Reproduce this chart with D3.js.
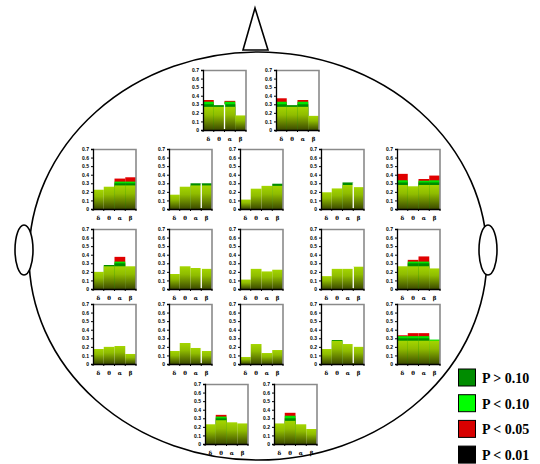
<!DOCTYPE html>
<html><head><meta charset="utf-8">
<script src="https://cdn.jsdelivr.net/npm/d3@7"></script>
<style>body{margin:0;background:#fff}</style>
</head><body><svg id="c" width="540" height="464"></svg>
<script>
// ---------- data ----------
const bands = ["δ", "θ", "α", "β"];
const yTicks = [0, 0.1, 0.2, 0.3, 0.4, 0.5, 0.6, 0.7];
// base (gradient) bar heights per electrode panel
const baseValues = [
  [0.27, 0.27, 0.27, 0.17],
  [0.27, 0.27, 0.27, 0.165],
  [0.225, 0.26, 0.275, 0.275],
  [0.167, 0.26, 0.275, 0.275],
  [0.11, 0.237, 0.27, 0.27],
  [0.195, 0.24, 0.28, 0.255],
  [0.28, 0.265, 0.28, 0.28],
  [0.2, 0.265, 0.265, 0.265],
  [0.175, 0.265, 0.245, 0.235],
  [0.11, 0.235, 0.205, 0.225],
  [0.15, 0.235, 0.235, 0.26],
  [0.265, 0.265, 0.265, 0.24],
  [0.175, 0.2, 0.21, 0.117],
  [0.152, 0.245, 0.187, 0.152],
  [0.082, 0.233, 0.128, 0.163],
  [0.175, 0.27, 0.233, 0.2],
  [0.272, 0.272, 0.272, 0.272],
  [0.23, 0.277, 0.253, 0.24],
  [0.24, 0.27, 0.23, 0.175]
];
// top of the "P > 0.10" segment (0 = none)
const pAbove010 = [
  [0.30, 0.29, 0.30, 0], [0.30, 0.29, 0.30, 0],
  [0, 0, 0.30, 0.30], [0, 0, 0.30, 0.30], [0, 0, 0, 0.295], [0, 0, 0.31, 0], [0.31, 0, 0.31, 0.31],
  [0, 0.28, 0.30, 0], [0, 0, 0, 0], [0, 0, 0, 0], [0, 0, 0, 0], [0, 0.30, 0.30, 0],
  [0, 0, 0, 0], [0, 0, 0, 0], [0, 0, 0, 0], [0, 0.28, 0, 0], [0.30, 0.30, 0.30, 0],
  [0, 0.30, 0, 0], [0, 0.30, 0, 0]
];
// top of the "P < 0.10" segment
const pBelow010 = [
  [0.33, 0, 0.33, 0], [0.33, 0, 0.33, 0],
  [0, 0, 0.32, 0.32], [0, 0, 0, 0], [0, 0, 0, 0], [0, 0, 0, 0], [0.335, 0, 0.33, 0.335],
  [0, 0, 0.32, 0], [0, 0, 0, 0], [0, 0, 0, 0], [0, 0, 0, 0], [0, 0.32, 0.32, 0],
  [0, 0, 0, 0], [0, 0, 0, 0], [0, 0, 0, 0], [0, 0, 0, 0], [0.325, 0.325, 0.325, 0.285],
  [0, 0.32, 0, 0], [0, 0.33, 0, 0]
];
// top of the "P < 0.05" segment
const pBelow005 = [
  [0.35, 0, 0.34, 0], [0.37, 0, 0.35, 0],
  [0, 0, 0.355, 0.37], [0, 0, 0, 0], [0, 0, 0, 0], [0, 0, 0, 0], [0.41, 0, 0.35, 0.39],
  [0, 0, 0.375, 0], [0, 0, 0, 0], [0, 0, 0, 0], [0, 0, 0, 0], [0, 0.34, 0.38, 0],
  [0, 0, 0, 0], [0, 0, 0, 0], [0, 0, 0, 0], [0, 0, 0, 0], [0.335, 0.36, 0.36, 0],
  [0, 0.34, 0, 0], [0, 0.364, 0, 0]
];
const legendLabels = ["P > 0.10", "P < 0.10", "P < 0.05", "P < 0.01"];

// ---------- layout / style ----------
const panelPos = [
  [203, 70], [276, 70],
  [93, 149], [169, 149], [240, 149], [321, 149], [397, 149],
  [93, 229], [169, 229], [240, 229], [321, 229], [397, 229],
  [93, 304], [169, 304], [240, 304], [321, 304], [397, 304],
  [205, 384], [274, 384]
];
const gapAt = {0: 2, 3: 3, 5: 3, 8: 3, 10: 3, 13: 3, 15: 3};
const PW = 43, PH = 60;
const colDark = "#008c00", colLight = "#00e600", colRed = "#e00000", colBlack = "#000000";
const legendColors = [colDark, "#00ff00", "#d80000", colBlack];

const svg = d3.select("#c");
const defs = svg.append("defs");
const grad = defs.append("linearGradient").attr("id", "g").attr("x1", 0).attr("y1", 0).attr("x2", 0).attr("y2", 1);
grad.append("stop").attr("offset", "0%").attr("stop-color", "#a4d600");
grad.append("stop").attr("offset", "35%").attr("stop-color", "#8fbc00");
grad.append("stop").attr("offset", "100%").attr("stop-color", "#3c4a00");

// ---------- head ----------
const head = svg.append("g").attr("fill", "#fff").attr("stroke", "#000").attr("stroke-width", 1.6);
head.append("ellipse").attr("cx", 258).attr("cy", 256).attr("rx", 229).attr("ry", 204);
head.append("path").attr("d", "M243,50 L255,8 L268,50 Z");
head.append("ellipse").attr("cx", 24).attr("cy", 250).attr("rx", 9).attr("ry", 25);
head.append("ellipse").attr("cx", 488).attr("cy", 250).attr("rx", 9).attr("ry", 25);

// ---------- panels ----------
const x = d3.scaleBand().domain(bands).range([0, PW]).padding(0);
const y = d3.scaleLinear().domain([0, 0.7]).range([PH, 0]);

baseValues.forEach((vals, i) => {
  const g = svg.append("g").attr("transform", `translate(${panelPos[i][0]},${panelPos[i][1]})`);
  const layers = [
    {arr: pBelow005[i], fill: colRed},
    {arr: pBelow010[i], fill: colLight},
    {arr: pAbove010[i], fill: colDark},
    {arr: vals, fill: "url(#g)"}
  ];
  layers.forEach(L => {
    g.selectAll(null).data(bands.map((b, k) => ({b, v: L.arr[k]})).filter(d => d.v > 0))
      .enter().append("rect")
      .attr("x", d => x(d.b)).attr("width", x.bandwidth())
      .attr("y", d => y(d.v)).attr("height", d => PH - y(d.v))
      .attr("fill", L.fill);
  });
  if (gapAt[i] !== undefined) {
    const k = gapAt[i];
    const top = d3.max([vals[k - 1], vals[k], pAbove010[i][k - 1], pAbove010[i][k]]);
    g.append("line").attr("x1", x(bands[k])).attr("x2", x(bands[k]))
      .attr("y1", y(top)).attr("y2", PH - 1).attr("stroke", "#fff").attr("stroke-width", 1.3);
  }
  // frame top/right
  g.append("path").attr("d", `M0,0.5 H${PW} V${PH}`).attr("fill", "none").attr("stroke", "#8a8a8a").attr("stroke-width", 1.6);
  // y axis
  const ya = g.append("g").call(d3.axisLeft(y).tickValues(yTicks).tickSize(2).tickPadding(2).tickFormat(d => d === 0 ? "0" : d3.format(".1f")(d)));
  ya.select(".domain").attr("stroke-width", 1.3);
  ya.selectAll("text").attr("font-size", 5).attr("font-weight", "bold").attr("font-family", "Liberation Sans, Arial, sans-serif");
  // x axis
  const xa = g.append("g").attr("transform", `translate(0,${PH})`).call(d3.axisBottom(x).tickSize(0).tickPadding(7.5));
  xa.select(".domain").attr("stroke-width", 1.3);
  xa.selectAll("text").attr("font-size", 5.5).attr("font-weight", "bold").attr("font-family", "DejaVu Serif, serif");
  xa.selectAll(".tick line").remove();
  g.append("g").selectAll("line").data(d3.range(5)).enter().append("line")
    .attr("x1", k => k * PW / 4).attr("x2", k => k * PW / 4)
    .attr("y1", PH).attr("y2", PH + 2).attr("stroke", "#000").attr("stroke-width", 1);
});

// ---------- legend ----------
const lg = svg.append("g");
legendLabels.forEach((t, i) => {
  const yy = 369 + i * 25.7;
  lg.append("rect").attr("x", 458.5).attr("y", yy).attr("width", 17).attr("height", 17)
    .attr("fill", legendColors[i]).attr("stroke", "#000").attr("stroke-width", 1);
  lg.append("text").attr("x", 482).attr("y", yy + 14).text(t)
    .attr("font-family", "Liberation Serif, Times New Roman, serif").attr("font-weight", "bold")
    .attr("font-size", 14).attr("fill", "#000");
});
</script></body></html>
